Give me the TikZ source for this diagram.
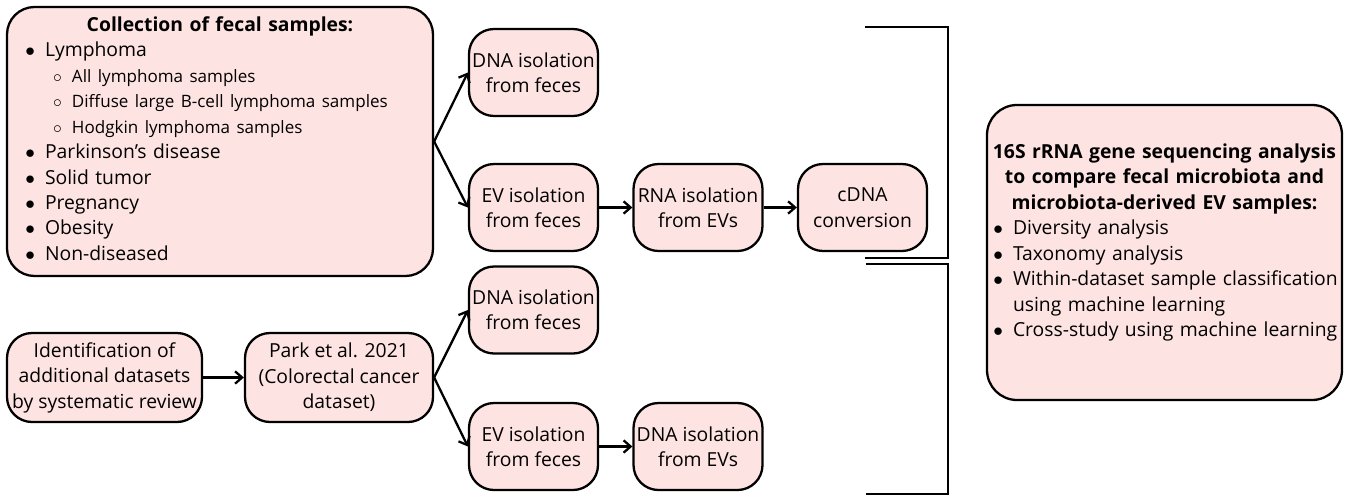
\documentclass[tikz,border=0pt]{standalone}
\usepackage{fontspec}
\setmainfont{Open Sans}
\usepackage{xcolor}
\usepackage{tikz}
\usetikzlibrary{positioning,arrows.meta}
\definecolor{boxpink}{RGB}{253,227,225}
\setlength{\parindent}{0pt}
% one list line: text indent, label, text
\newcommand{\listline}[3]{\par\noindent\makebox[#1][r]{#2\hspace{0.2cm}}{#3}}
\newcommand{\subsize}{\fontsize{9.7}{13.3}\selectfont}

\begin{document}
\begin{tikzpicture}[
    >={Straight Barb[length=4pt,width=7pt]},
    line width=1.3pt,
    stepbox/.style={rectangle, draw, fill=boxpink, rounded corners=0.5cm, minimum width=2.58cm, minimum height=1.74cm, inner sep=1pt, align=center, font=\fontsize{11}{14.5}\selectfont},
    listbox/.style={rectangle, draw, fill=boxpink, rounded corners=0.55cm, inner ysep=0pt, font=\fontsize{11}{14.5}\selectfont},
    bracket/.style={line width=1.3pt}
]
\useasboundingbox (0,0) rectangle (27,-9.96);

% Lanes
\def\xId{2.09}
\def\xPark{6.78}
\def\xA{10.67}
\def\xB{13.96}
\def\xC{17.25}
\def\xS{17.30}
\def\xR{18.96}

% Rows
\def\yDnaA{-1.45}
\def\yEvA{-4.15}
\def\yDnaB{-6.20}
\def\yId{-7.55}
\def\yEvB{-8.93}

% Sample collection
\node[listbox, minimum width=8.52cm, minimum height=5.38cm, inner xsep=0.3cm, text width=7.92cm] (collect) at (4.40,-2.83) {%
{\centering\bfseries Collection of fecal samples:\par}
\listline{0.46cm}{$\bullet$}{Lymphoma}
\listline{1.0cm}{\subsize$\circ$}{\subsize All lymphoma samples}
\listline{1.0cm}{\subsize$\circ$}{\subsize Diffuse large B-cell lymphoma samples}
\listline{1.0cm}{\subsize$\circ$}{\subsize Hodgkin lymphoma samples}
\listline{0.46cm}{$\bullet$}{Parkinson’s disease}
\listline{0.46cm}{$\bullet$}{Solid tumor}
\listline{0.46cm}{$\bullet$}{Pregnancy}
\listline{0.46cm}{$\bullet$}{Obesity}
\listline{0.46cm}{$\bullet$}{Non-diseased}\par\kern0.12cm};

% Upper branch
\node[stepbox] (dnaA) at (\xA,\yDnaA) {DNA isolation\\from feces};
\node[stepbox] (evA)  at (\xA,\yEvA)  {EV isolation\\from feces};
\node[stepbox] (rnaA) at (\xB,\yEvA)  {RNA isolation\\from EVs};
\node[stepbox] (cdna) at (\xC,\yEvA)  {cDNA\\conversion};

\draw[->] (collect.east) -- (dnaA.west);
\draw[->] (collect.east) -- (evA.west);
\draw[->] (evA) -- (rnaA);
\draw[->] (rnaA) -- (cdna);

% Lower branch
\node[stepbox, minimum width=3.9cm, minimum height=1.78cm] (ident) at (\xId,\yId) {Identification of\\additional datasets\\by systematic review};
\node[stepbox, minimum width=3.76cm, minimum height=1.78cm] (park) at (\xPark,\yId) {Park et al. 2021\\(Colorectal cancer\\dataset)};
\node[stepbox] (dnaB) at (\xA,\yDnaB) {DNA isolation\\from feces};
\node[stepbox] (evB)  at (\xA,\yEvB)  {EV isolation\\from feces};
\node[stepbox] (dnaEv) at (\xB,\yEvB) {DNA isolation\\from EVs};

\draw[->] (ident) -- (park);
\draw[->] (park.east) -- (dnaB.west);
\draw[->] (park.east) -- (evB.west);
\draw[->] (evB) -- (dnaEv);

% Brackets
\coordinate (brTopL) at (\xS,-0.54);
\coordinate (brTopR) at (\xR,-0.54);
\coordinate (brMidA) at (\xS,-5.16);
\coordinate (brMidL) at (17.32,-5.28);
\coordinate (brMidR) at (\xR,-5.28);
\coordinate (brBot)  at (17.32,-9.88);
\draw[bracket] (brTopL) -- (brTopR) |- (brMidA);
\draw[bracket] (brMidL) -- (brMidR) |- (brBot);

% Analysis
\node[listbox, minimum width=7.1cm, minimum height=5.9cm, rounded corners=0.6cm, inner xsep=0.05cm, text width=7.0cm] (analysis) at (23.29,-5.05) {%
{\centering\bfseries 16S rRNA gene sequencing analysis\\to compare fecal microbiota and\\microbiota-derived EV samples:\par}
\listline{0.47cm}{$\bullet$}{Diversity analysis}
\listline{0.47cm}{$\bullet$}{Taxonomy analysis}
\listline{0.47cm}{$\bullet$}{Within-dataset sample classification}
\listline{0.47cm}{}{using machine learning}
\listline{0.47cm}{$\bullet$}{Cross-study using machine learning}\par\kern0.4cm};
\end{tikzpicture}
\end{document}
